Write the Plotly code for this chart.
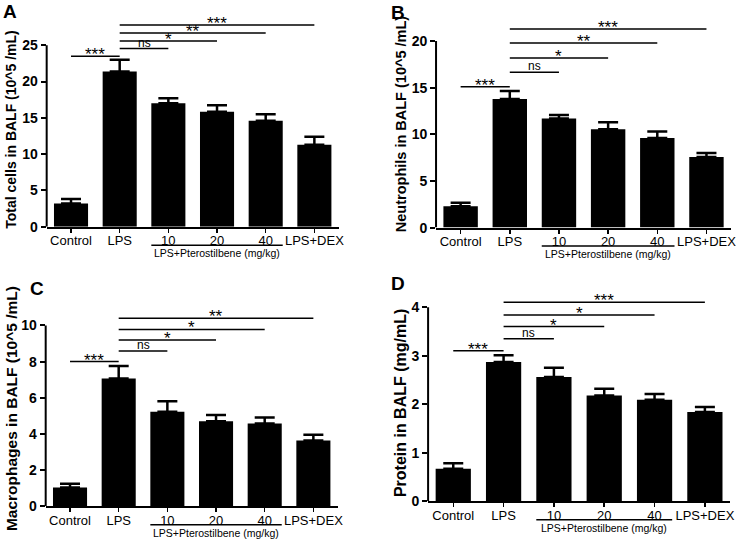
import plotly.graph_objects as go

W, H = 742, 546
FONT = "Liberation Sans, Arial, Helvetica, sans-serif"

# ---------------- data ----------------
categories = ["Control", "LPS", "10", "20", "40", "LPS+DEX"]

total_cells = [3.2, 21.4, 17.0, 15.85, 14.6, 11.3]
total_cells_err = [0.6, 1.6, 0.7, 0.9, 0.9, 1.1]

neutrophils = [2.3, 13.8, 11.7, 10.56, 9.6, 7.57]
neutrophils_err = [0.37, 0.85, 0.37, 0.74, 0.7, 0.43]

macrophages = [1.04, 7.07, 5.22, 4.7, 4.58, 3.64]
macrophages_err = [0.2, 0.68, 0.58, 0.34, 0.32, 0.31]

protein = [0.67, 2.87, 2.56, 2.18, 2.09, 1.84]
protein_err = [0.115, 0.14, 0.19, 0.14, 0.12, 0.10]

# significance comparisons: (group i, group j, label, bracket height)
sig_a = [(0, 1, "***", 23.5), (1, 2, "ns", 24.55), (1, 3, "*", 25.6), (1, 4, "**", 26.7), (1, 5, "***", 27.8)]
sig_b = [(0, 1, "***", 15.1), (1, 2, "ns", 16.65), (1, 3, "*", 18.2), (1, 4, "**", 19.8), (1, 5, "***", 21.3)]
sig_c = [(0, 1, "***", 8.0), (1, 2, "ns", 8.58), (1, 3, "*", 9.2), (1, 4, "*", 9.78), (1, 5, "**", 10.4)]
sig_d = [(0, 1, "***", 3.1), (1, 2, "ns", 3.35), (1, 3, "*", 3.6), (1, 4, "*", 3.84), (1, 5, "***", 4.1)]

ticks_a = [0, 5, 10, 15, 20, 25]
ticks_b = [0, 5, 10, 15, 20]
ticks_c = [0, 2, 4, 6, 8, 10]
ticks_d = [0, 1, 2, 3, 4]

group_label = "LPS+Pterostilbene (mg/kg)"

# ---------------- layout (pixel geometry of each panel) ----------------
panels = [
    dict(letter="A", values=total_cells, err=total_cells_err, sig=sig_a, ticks=ticks_a,
         title="Total cells in BALF (10^5 /mL)", title_size=14, title_dx=-36, title_cy=131,
         left=47, right=341, zero=230, top_px=46, ymax=28.5, letter_pos=(10.5, 12)),
    dict(letter="B", values=neutrophils, err=neutrophils_err, sig=sig_b, ticks=ticks_b,
         title="Neutrophils in BALF (10^5 /mL)", title_size=14.5, title_dx=-35.5, title_cy=126.5,
         left=439, right=736, zero=231, top_px=41.7, ymax=22.0, letter_pos=(401, None)),
    dict(letter="C", values=macrophages, err=macrophages_err, sig=sig_c, ticks=ticks_c,
         title="Macrophages in BALF (10^5 /mL)", title_size=15.5, title_dx=-33.5, title_cy=415,
         left=46, right=340, zero=513.7, top_px=330.3, ymax=10.8, letter_pos=(37.5, 293)),
    dict(letter="D", values=protein, err=protein_err, sig=sig_d, ticks=ticks_d,
         title="Protein in BALF (mg/mL)", title_size=16, title_dx=-28, title_cy=409,
         left=431, right=735, zero=508.7, top_px=311.7, ymax=4.3, letter_pos=(400.5, 288)),
]

fig = go.Figure()
shapes = []
annotations = []
layout_axes = {}

for k, p in enumerate(panels, start=1):
    xa = "x" if k == 1 else f"x{k}"
    ya = "y" if k == 1 else f"y{k}"
    xname = "xaxis" if k == 1 else f"xaxis{k}"
    yname = "yaxis" if k == 1 else f"yaxis{k}"

    top_val = p["ticks"][-1]
    scale = (p["zero"] - p["top_px"]) / top_val
    ytop_px = p["zero"] - p["ymax"] * scale
    xdom = [p["left"] / W, p["right"] / W]
    ydom = [(H - p["zero"]) / H, (H - ytop_px) / H]

    fig.add_trace(go.Bar(
        x=categories, y=p["values"], xaxis=xa, yaxis=ya,
        width=0.7,
        marker=dict(color="black", line=dict(width=0)),
        error_y=dict(type="data", array=p["err"], arrayminus=[0] * len(p["err"]),
                     symmetric=False, color="black", thickness=2.5, width=10),
        showlegend=False, hoverinfo="skip",
    ))

    layout_axes[xname] = dict(
        domain=xdom, anchor=ya, type="category", categoryorder="array",
        categoryarray=categories, range=[-0.5, len(categories) - 0.5],
        showline=True, linecolor="black", linewidth=2,
        ticks="outside", ticklen=4, tickwidth=1.5, tickcolor="black",
        ticklabelstandoff=-3,
        tickfont=dict(family=FONT, size=13, color="black"),
        showgrid=False, zeroline=False, fixedrange=True,
    )
    layout_axes[yname] = dict(
        domain=ydom, anchor=xa, range=[0, p["ymax"]],
        tickmode="array", tickvals=p["ticks"],
        showline=False, ticks="outside", ticklen=5, tickwidth=2, tickcolor="black",
        tickfont=dict(family=FONT, size=14, color="black", weight="bold"),
        showgrid=False, zeroline=False, fixedrange=True,
    )

    # y axis line only up to the top tick
    shapes.append(dict(type="line", xref=f"{xa} domain", yref=ya, x0=0, x1=0,
                       y0=0, y1=top_val, line=dict(color="black", width=2)))

    # significance brackets
    for (i, j, lab, yv) in p["sig"]:
        shapes.append(dict(type="line", xref=xa, yref=ya, x0=i, x1=j, y0=yv, y1=yv,
                           line=dict(color="black", width=1.5)))
        is_ns = lab == "ns"
        annotations.append(dict(
            x=(i + j) / 2, y=yv, xref=xa, yref=ya, text=lab, showarrow=False,
            xanchor="center", yanchor="bottom",
            yshift=-3 if is_ns else -10,
            font=dict(family=FONT, size=12 if is_ns else 17, color="black"),
        ))

    # group underline + label below the 10/20/40 groups
    shapes.append(dict(type="line", xref=xa, yref=f"{ya} domain", ysizemode="pixel",
                       yanchor=0, x0=1.65, x1=4.35, y0=-18.5, y1=-18.5,
                       line=dict(color="black", width=1.5)))
    annotations.append(dict(
        x=3, y=0, xref=xa, yref=ya, text=group_label, showarrow=False,
        xanchor="center", yanchor="middle", yshift=-26.5,
        font=dict(family=FONT, size=10.5, color="black"),
    ))

    # y-axis title
    annotations.append(dict(
        x=0, xref=f"{xa} domain", xshift=p["title_dx"],
        y=(H - p["title_cy"]) / H, yref="paper",
        text=p["title"], textangle=-90, showarrow=False,
        xanchor="center", yanchor="middle",
        font=dict(family=FONT, size=p["title_size"], color="black", weight="bold"),
    ))

    # panel letter
    lx, ly = p["letter_pos"]
    annotations.append(dict(
        x=lx / W, y=1.0 if ly is None else (H - ly) / H, xref="paper", yref="paper",
        text=p["letter"], showarrow=False, xanchor="center",
        yanchor="top" if ly is None else "middle",
        font=dict(family=FONT, size=19, color="black", weight="bold"),
    ))

fig.update_layout(
    width=W, height=H, autosize=False,
    margin=dict(l=0, r=0, t=0, b=0, pad=0),
    paper_bgcolor="white", plot_bgcolor="white",
    bargap=0.3, showlegend=False,
    shapes=shapes, annotations=annotations,
    font=dict(family=FONT, color="black"),
    **layout_axes,
)

fig.write_html(
    "out.html",
    config={"displayModeBar": False, "staticPlot": True},
    post_script="document.body.style.margin='0';document.body.style.overflow='hidden';",
)
